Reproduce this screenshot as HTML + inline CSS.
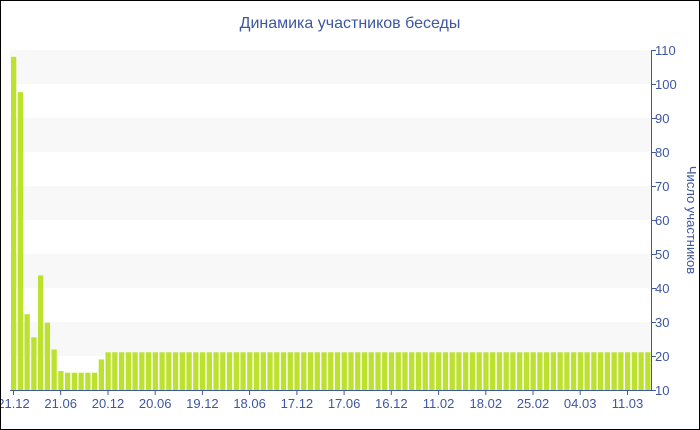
<!DOCTYPE html>
<html><head><meta charset="utf-8"><style>
html,body{margin:0;padding:0;background:#fff}
svg{display:block}
text{font-family:"Liberation Sans","DejaVu Sans",sans-serif;fill:#3d57a0}
</style></head><body>
<svg width="700" height="430" xmlns="http://www.w3.org/2000/svg">
<defs>
<pattern id="b" patternUnits="userSpaceOnUse" x="105.46" y="0" width="6.747" height="430">
<rect x="0" y="0" width="5.3" height="430" fill="#bde12f"/>
</pattern>
</defs>
<rect x="0.5" y="0.5" width="699" height="429" fill="#fff" stroke="#000"/>
<g fill="#f8f8f8">
<rect x="10" y="50" width="641" height="34"/>
<rect x="10" y="118" width="641" height="34"/>
<rect x="10" y="186" width="641" height="34"/>
<rect x="10" y="254" width="641" height="34"/>
<rect x="10" y="322" width="641" height="34"/>
</g>
<g fill="#bde12f">
<rect x="11" y="56.8" width="5.3" height="333.2"/>
<rect x="17.75" y="92.2" width="5.3" height="297.8"/>
<rect x="24.49" y="314.2" width="5.3" height="75.8"/>
<rect x="31.24" y="337.3" width="5.3" height="52.7"/>
<rect x="37.99" y="275.4" width="5.3" height="114.6"/>
<rect x="44.74" y="322.7" width="5.3" height="67.3"/>
<rect x="51.48" y="349.5" width="5.3" height="40.5"/>
<rect x="58.23" y="371" width="5.3" height="19"/>
<rect x="64.98" y="372.7" width="5.3" height="17.3"/>
<rect x="71.72" y="372.7" width="5.3" height="17.3"/>
<rect x="78.47" y="372.7" width="5.3" height="17.3"/>
<rect x="85.22" y="372.7" width="5.3" height="17.3"/>
<rect x="91.96" y="372.7" width="5.3" height="17.3"/>
<rect x="98.71" y="359.4" width="5.3" height="30.6"/>
</g>
<rect x="105.46" y="352.3" width="545.5" height="37.7" fill="url(#b)"/>
<g stroke="#3d57a0" stroke-width="1">
<line x1="10" y1="390.5" x2="651" y2="390.5"/>
<line x1="651.5" y1="50" x2="651.5" y2="391"/>
<line x1="651" y1="50.5" x2="656" y2="50.5"/>
<line x1="651" y1="84.5" x2="656" y2="84.5"/>
<line x1="651" y1="118.5" x2="656" y2="118.5"/>
<line x1="651" y1="152.5" x2="656" y2="152.5"/>
<line x1="651" y1="186.5" x2="656" y2="186.5"/>
<line x1="651" y1="220.5" x2="656" y2="220.5"/>
<line x1="651" y1="254.5" x2="656" y2="254.5"/>
<line x1="651" y1="288.5" x2="656" y2="288.5"/>
<line x1="651" y1="322.5" x2="656" y2="322.5"/>
<line x1="651" y1="356.5" x2="656" y2="356.5"/>
<line x1="651" y1="390.5" x2="656" y2="390.5"/>
<line x1="13.5" y1="390" x2="13.5" y2="395"/>
<line x1="60.7" y1="390" x2="60.7" y2="395"/>
<line x1="108" y1="390" x2="108" y2="395"/>
<line x1="155.2" y1="390" x2="155.2" y2="395"/>
<line x1="202.4" y1="390" x2="202.4" y2="395"/>
<line x1="249.6" y1="390" x2="249.6" y2="395"/>
<line x1="296.9" y1="390" x2="296.9" y2="395"/>
<line x1="344.1" y1="390" x2="344.1" y2="395"/>
<line x1="391.3" y1="390" x2="391.3" y2="395"/>
<line x1="438.6" y1="390" x2="438.6" y2="395"/>
<line x1="485.8" y1="390" x2="485.8" y2="395"/>
<line x1="533" y1="390" x2="533" y2="395"/>
<line x1="580.2" y1="390" x2="580.2" y2="395"/>
<line x1="627.5" y1="390" x2="627.5" y2="395"/>
</g>
<text x="350" y="28" font-size="16" text-anchor="middle">Динамика участников беседы</text>
<g font-size="13" text-anchor="start">
<text x="655" y="55">110</text>
<text x="655" y="89">100</text>
<text x="655" y="123">90</text>
<text x="655" y="157">80</text>
<text x="655" y="191">70</text>
<text x="655" y="225">60</text>
<text x="655" y="259">50</text>
<text x="655" y="293">40</text>
<text x="655" y="327">30</text>
<text x="655" y="361">20</text>
<text x="655" y="395">10</text>
</g>
<text transform="translate(687,220) rotate(90)" font-size="13" text-anchor="middle">Число участников</text>
<g font-size="13" text-anchor="middle">
<text x="13.5" y="408">21.12</text>
<text x="60.7" y="408">21.06</text>
<text x="108" y="408">20.12</text>
<text x="155.2" y="408">20.06</text>
<text x="202.4" y="408">19.12</text>
<text x="249.6" y="408">18.06</text>
<text x="296.9" y="408">17.12</text>
<text x="344.1" y="408">17.06</text>
<text x="391.3" y="408">16.12</text>
<text x="438.6" y="408">11.02</text>
<text x="485.8" y="408">18.02</text>
<text x="533" y="408">25.02</text>
<text x="580.2" y="408">04.03</text>
<text x="627.5" y="408">11.03</text>
</g>
<rect x="0" y="0" width="1" height="430" fill="#000"/>
</svg>
</body></html>
